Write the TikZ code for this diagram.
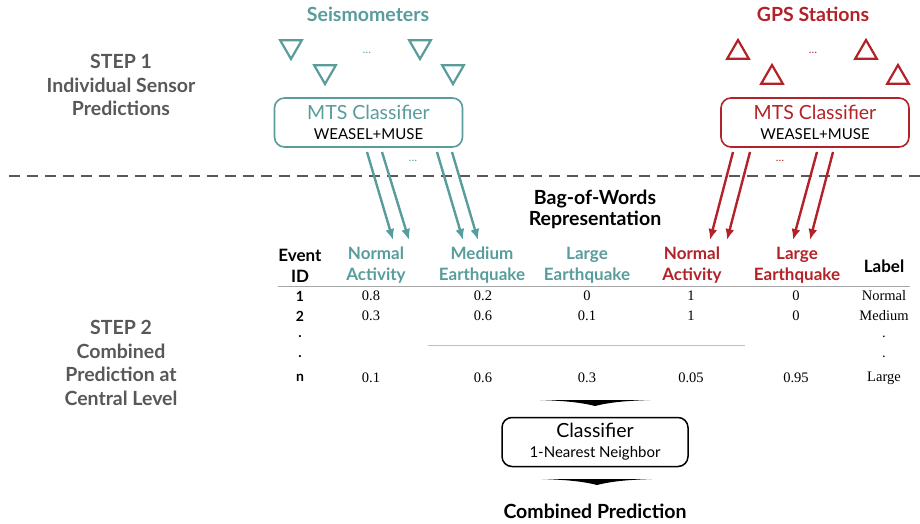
\documentclass[tikz,border=0pt]{standalone}
\usepackage{fontspec}
\setmainfont{Lato}
\newfontfamily\numFont{Liberation Serif}
\usetikzlibrary{positioning,shapes.geometric,arrows.meta}
\definecolor{seisColor}{RGB}{88,156,156}
\definecolor{gpsColor}{RGB}{178,34,40}
\definecolor{stepColor}{RGB}{88,88,88}
\tikzstyle{canvas} = [x=1pt, y=-1pt]
\tikzstyle{stepText} = [color=stepColor, font=\fontsize{19.5}{23.5}\selectfont\bfseries, align=center]
\tikzstyle{groupTitle} = [font=\fontsize{19.5}{21}\selectfont\bfseries, align=center]
\tikzstyle{sensorBase} = [regular polygon, regular polygon sides=3, line width=2.2pt, minimum size=25pt, inner sep=0pt]
\tikzstyle{seisSensor} = [sensorBase, draw=seisColor, shape border rotate=180]
\tikzstyle{gpsSensor} = [sensorBase, draw=gpsColor]
\tikzstyle{dotsText} = [font=\fontsize{11}{11}\selectfont]
\tikzstyle{mtsBox} = [draw, rounded corners=10pt, line width=1.6pt, minimum width=188pt, minimum height=49pt, inner sep=0pt, align=center]
\tikzstyle{sensorArrow} = [line width=2.4pt, -{Latex[length=11pt,width=9pt]}]
\tikzstyle{headText} = [font=\fontsize{17}{21}\selectfont\bfseries, align=center]
\tikzstyle{cellText} = [font=\fontsize{14.5}{15}\selectfont\numFont]
\tikzstyle{idText} = [font=\fontsize{14}{15}\selectfont\bfseries]
\newcommand{\boxText}[2]{\fontsize{19.5}{22}\selectfont #1\\[8pt]\fontsize{15}{21}\selectfont #2}
\newcommand{\flatArrow}[1]{\fill (#1) ++(-55,0) .. controls +(30,1) and +(-12,-3) .. ++(55,6) .. controls +(12,-3) and +(-30,1) .. ++(55,-6) -- cycle;}

\begin{document}
\begin{tikzpicture}[canvas]
  \useasboundingbox (0,0) rectangle (920,524);

  % step labels
  \node [stepText] (stepOne) at (121,85) {STEP 1\\Individual Sensor\\Predictions};
  \node [stepText] (stepTwo) at (121,363) {STEP 2\\Combined\\Prediction at\\Central Level};

  % sensors
  \node [groupTitle, color=seisColor] (seisTitle) at (368,14) {Seismometers};
  \node [groupTitle, color=gpsColor] (gpsTitle) at (813,14) {GPS Stations};
  \foreach \name/\x/\y in {sA/291/46.5, sB/325/71.5, sC/420/46.5, sD/453/71.5}
    \node [seisSensor] (\name) at (\x,\y) {};
  \foreach \name/\x/\y in {gA/738/52.5, gB/772/77.5, gC/866/52.5, gD/898/77.5}
    \node [gpsSensor] (\name) at (\x,\y) {};
  \node [dotsText, color=seisColor] (seisDots) at (367,53) {\dots};
  \node [dotsText, color=gpsColor] (gpsDots) at (813,53) {\dots};

  % sensor classifiers
  \node [mtsBox, draw=seisColor] (seisClf) at (368.5,122.5) {\boxText{\textcolor{seisColor}{MTS Classifier}}{WEASEL+MUSE}};
  \node [mtsBox, draw=gpsColor] (gpsClf) at (815,122.5) {\boxText{\textcolor{gpsColor}{MTS Classifier}}{WEASEL+MUSE}};

  \draw [dashed, dash pattern=on 11pt off 7pt, line width=2pt, color=stepColor] (9,176) -- (920,176);

  % prediction arrows
  \foreach \i/\xs/\xe in {1/367/393, 2/382/409, 3/437/463, 4/452/478} {
    \coordinate (seisOut\i) at (\xs,152);
    \coordinate (seisIn\i) at (\xe,240);
    \draw [sensorArrow, color=seisColor] (seisOut\i) -- (seisIn\i);
  }
  \foreach \i/\xs/\xe in {1/733/710, 2/750/727, 3/817/793, 4/833/810} {
    \coordinate (gpsOut\i) at (\xs,152);
    \coordinate (gpsIn\i) at (\xe,240);
    \draw [sensorArrow, color=gpsColor] (gpsOut\i) -- (gpsIn\i);
  }
  \node [dotsText, color=seisColor] (seisArrowDots) at (413,161) {\dots};
  \node [dotsText, color=gpsColor] (gpsArrowDots) at (780,161) {\dots};

  % bag of words table
  \node [groupTitle] (bowTitle) at (595,209) {Bag-of-Words\\Representation};
  \node [headText] (hId) at (300,265.5) {Event\\ID};
  \node [headText, color=seisColor] (hSeisN) at (376,265.5) {Normal\\Activity};
  \node [headText, color=seisColor] (hSeisM) at (482,265.5) {Medium\\Earthquake};
  \node [headText, color=seisColor] (hSeisL) at (587,265.5) {Large\\Earthquake};
  \node [headText, color=gpsColor] (hGpsN) at (692,265.5) {Normal\\Activity};
  \node [headText, color=gpsColor] (hGpsL) at (797,265.5) {Large\\Earthquake};
  \node [headText] (hLabel) at (884,266) {Label};
  \draw [color=black!35, line width=1pt] (278,286) -- (910,286);
  \foreach \y/\id/\a/\b/\c/\d/\e/\lab in {296/1/0.8/0.2/0/1/0/Normal, 316/2/0.3/0.6/0.1/1/0/Medium, 378/n/0.1/0.6/0.3/0.05/0.95/Large} {
    \node [idText] (id\id) at (300,\y) {\id};
    \node [cellText] (a\id) at (371,\y) {\a};
    \node [cellText] (b\id) at (483,\y) {\b};
    \node [cellText] (c\id) at (587,\y) {\c};
    \node [cellText] (d\id) at (691,\y) {\d};
    \node [cellText] (e\id) at (796,\y) {\e};
    \node [cellText] (lab\id) at (884,\y) {\lab};
  }
  \foreach \y/\k in {337/1, 357/2} {
    \node [idText] (idDot\k) at (300,\y) {.};
    \node [cellText] (labDot\k) at (884,\y) {.};
  }
  \draw [color=black!25, line width=0.6pt] (428,345) -- (745,345);

  % combined prediction
  \coordinate (topWedge) at (595,400);
  \flatArrow{topWedge}
  \node [mtsBox, line width=1.5pt, minimum width=186pt] (finalClf) at (595,442) {\boxText{Classifier}{1-Nearest Neighbor}};
  \coordinate (bottomWedge) at (597,479);
  \flatArrow{bottomWedge}
  \node [groupTitle] (combined) at (595,511) {Combined Prediction};
\end{tikzpicture}
\end{document}
